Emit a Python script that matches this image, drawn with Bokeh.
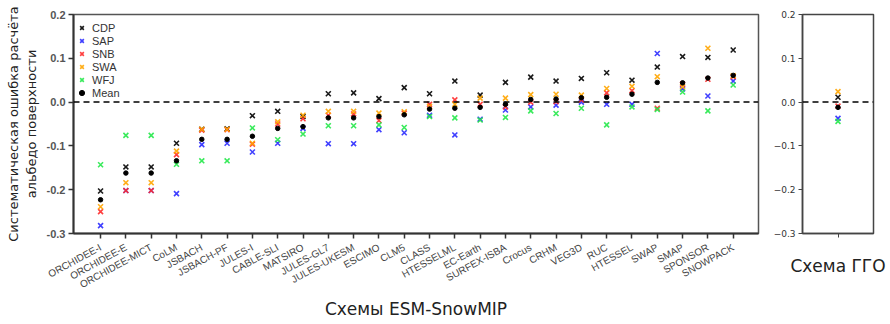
from bokeh.plotting import figure
from bokeh.models import Range1d, FixedTicker, Span, Legend, LegendItem, CustomJSTickFormatter
from bokeh.layouts import row
from bokeh.embed import file_html
from bokeh.resources import INLINE

models = ["ORCHIDEE-I", "ORCHIDEE-E", "ORCHIDEE-MICT", "CoLM", "JSBACH", "JSBACH-PF",
          "JULES-I", "CABLE-SLI", "MATSIRO", "JULES-GL7", "JULES-UKESM", "ESCIMO",
          "CLM5", "CLASS", "HTESSELML", "EC-Earth", "SURFEX-ISBA", "Crocus", "CRHM",
          "VEG3D", "RUC", "HTESSEL", "SWAP", "SMAP", "SPONSOR", "SNOWPACK"]

CDP = [-0.203, -0.148, -0.148, -0.094, -0.062, -0.061, -0.031, -0.021, -0.033, 0.019, 0.021, 0.008, 0.033,
       0.019, 0.048, 0.016, 0.045, 0.057, 0.048, 0.054, 0.067, 0.050, 0.080, 0.104, 0.102, 0.119]
SAP = [-0.282, -0.202, -0.202, -0.209, -0.097, -0.094, -0.114, -0.094, -0.060, -0.095, -0.095, -0.063, -0.070,
       -0.030, -0.075, -0.039, -0.018, -0.011, -0.007, 0.000, -0.005, -0.005, 0.111, 0.030, 0.014, 0.048]
SNB = [-0.250, -0.202, -0.202, -0.120, -0.064, -0.063, -0.096, -0.050, -0.038, -0.030, -0.027, -0.042, -0.025,
       -0.005, 0.005, -0.005, -0.011, 0.000, 0.001, 0.005, 0.021, 0.026, -0.014, 0.041, 0.052, 0.058]
SWA = [-0.239, -0.184, -0.184, -0.112, -0.062, -0.062, -0.094, -0.045, -0.030, -0.021, -0.021, -0.025, -0.022,
       -0.010, -0.005, 0.009, 0.009, 0.017, 0.018, 0.016, 0.031, 0.036, 0.058, 0.035, 0.123, 0.060]
WFJ = [-0.143, -0.076, -0.076, -0.142, -0.134, -0.134, -0.059, -0.086, -0.073, -0.054, -0.054, -0.052, -0.058,
       -0.033, -0.036, -0.041, -0.035, -0.020, -0.026, -0.014, -0.052, -0.011, -0.017, 0.023, -0.020, 0.039]
MEAN = [-0.223, -0.162, -0.162, -0.134, -0.085, -0.085, -0.078, -0.060, -0.056, -0.036, -0.036, -0.033, -0.029,
        -0.016, -0.014, -0.012, -0.005, 0.006, 0.007, 0.010, 0.011, 0.018, 0.045, 0.044, 0.055, 0.061]

# GGO scheme (single model)
GGO_CDP = [0.011]
GGO_SAP = [-0.037]
GGO_SNB = [-0.009]
GGO_SWA = [0.024]
GGO_WFJ = [-0.044]
GGO_MEAN = [-0.012]

y_ticks = [-0.3, -0.2, -0.1, 0.0, 0.1, 0.2]

COLORS = {"CDP": "black", "SAP": "#2b2bff", "SNB": "#ff2b2b", "SWA": "#ffa500", "WFJ": "#25e84a"}

x = list(range(len(models)))

p = figure(width=768, height=324, x_range=Range1d(-1.07, 26.0), y_range=Range1d(-0.3, 0.2),
           output_backend="svg", toolbar_location=None,
           min_border_left=73, min_border_right=10, min_border_top=14, min_border_bottom=91)
p.grid.visible = False
p.outline_line_color = "#555555"
p.outline_line_width = 1.5

series = [("CDP", CDP), ("SAP", SAP), ("SNB", SNB), ("SWA", SWA), ("WFJ", WFJ)]
items = []
for name, vals in series:
    r = p.scatter(x, vals, marker="x", size=7, line_color=COLORS[name], line_width=1.6, line_alpha=0.9)
    items.append(LegendItem(label=name, renderers=[r]))
rm = p.scatter(x, MEAN, marker="circle", size=4.5, fill_color="black", line_color="black")
items.append(LegendItem(label="Mean", renderers=[rm]))

p.add_layout(Span(location=0, dimension="width", line_color="black", line_width=1.5, line_dash="6 4"))

leg = Legend(items=items, location=(2, 134), border_line_color=None, background_fill_alpha=0,
             padding=2, margin=0, spacing=0, glyph_width=13, glyph_height=13, label_height=13,
             label_standoff=4, label_text_font="Liberation Sans", label_text_font_size="11px",
             label_text_color="#333333")
p.add_layout(leg)

p.xaxis.ticker = FixedTicker(ticks=x)
p.xaxis.major_label_overrides = {i: m for i, m in zip(x, models)}
p.xaxis.major_label_orientation = 0.5
p.xaxis.major_label_text_font = "Liberation Sans"
p.xaxis.major_label_text_font_size = "10px"
p.xaxis.major_label_text_color = "#444444"
p.xaxis.axis_label = "Схемы ESM-SnowMIP"
p.xaxis.axis_label_text_font = "DejaVu Sans"
p.xaxis.axis_label_text_font_size = "17px"
p.xaxis.axis_label_text_font_style = "normal"
p.xaxis.axis_label_text_color = "#222222"
p.xaxis.axis_label_standoff = 1

p.yaxis.ticker = FixedTicker(ticks=y_ticks)
p.yaxis.formatter = CustomJSTickFormatter(code="return tick.toFixed(1);")
p.yaxis.major_label_text_font = "Liberation Sans"
p.yaxis.major_label_text_font_size = "11px"
p.yaxis.major_label_text_font_style = "bold"
p.yaxis.major_label_text_color = "#555555"
p.yaxis.axis_label = "Систематическая ошибка расчёта\nальбедо поверхности"
p.yaxis.axis_label_text_font = "DejaVu Sans"
p.yaxis.axis_label_text_font_size = "13px"
p.yaxis.axis_label_text_font_style = "normal"
p.yaxis.axis_label_text_color = "#222222"
p.yaxis.axis_label_standoff = 5

for ax in (p.xaxis, p.yaxis):
    ax.axis_line_width = 2
    ax.axis_line_color = "#333333"
    ax.major_tick_line_width = 1.5
    ax.major_tick_line_color = "#333333"
    ax.major_tick_out = 5
    ax.major_tick_in = 0
    ax.minor_tick_line_color = None
    ax.major_label_standoff = 3
p.xaxis.major_label_standoff = 8

# right panel
p2 = figure(width=119, height=324, x_range=Range1d(-1, 1), y_range=Range1d(-0.3, 0.2),
            output_backend="svg", toolbar_location=None,
            min_border_left=34, min_border_right=14, min_border_top=14, min_border_bottom=91)
p2.grid.visible = False
p2.outline_line_color = "#444444"
p2.outline_line_width = 1.5
gx = [0]
for name, vals in [("CDP", GGO_CDP), ("SAP", GGO_SAP), ("SNB", GGO_SNB), ("SWA", GGO_SWA), ("WFJ", GGO_WFJ)]:
    p2.scatter(gx, vals, marker="x", size=7, line_color=COLORS[name], line_width=1.6, line_alpha=0.9)
p2.scatter(gx, GGO_MEAN, marker="circle", size=4.5, fill_color="black", line_color="black")
p2.add_layout(Span(location=0, dimension="width", line_color="black", line_width=1.5, line_dash="6 4"))

p2.xaxis.ticker = FixedTicker(ticks=gx)
p2.xaxis.major_label_overrides = {0: ""}
p2.xaxis.major_label_text_font_size = "1px"
p2.xaxis.axis_label = "Схема ГГО"
p2.xaxis.axis_label_text_font = "DejaVu Sans"
p2.xaxis.axis_label_text_font_size = "17px"
p2.xaxis.axis_label_text_font_style = "normal"
p2.xaxis.axis_label_text_color = "#222222"
p2.xaxis.axis_label_standoff = 18

p2.yaxis.ticker = FixedTicker(ticks=y_ticks)
p2.yaxis.formatter = CustomJSTickFormatter(code="return tick.toFixed(1).replace('-', '\u2212');")
p2.yaxis.major_label_text_font = "DejaVu Sans"
p2.yaxis.major_label_text_font_size = "9px"
p2.yaxis.major_label_text_color = "#333333"
for ax in (p2.xaxis, p2.yaxis):
    ax.axis_line_width = 1.5
    ax.axis_line_color = "#444444"
    ax.major_tick_line_color = "#444444"
    ax.major_tick_out = 4
    ax.major_tick_in = 0
    ax.minor_tick_line_color = None
    ax.major_label_standoff = 3

layout = row(p, p2)
open("out.html", "w").write(file_html(layout, INLINE))
